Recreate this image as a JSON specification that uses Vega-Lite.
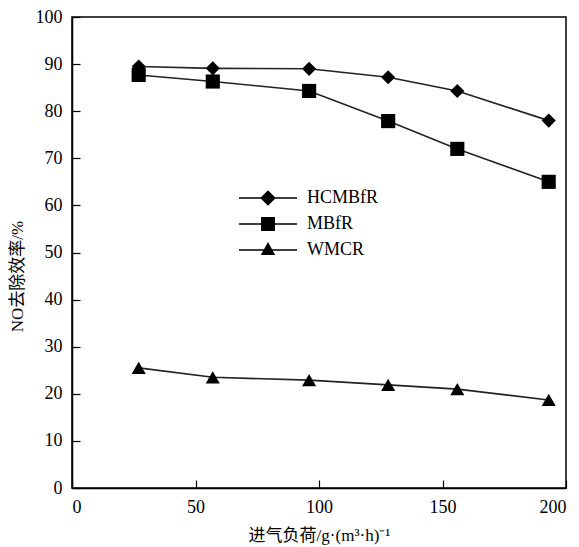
{
  "$schema": "https://vega.github.io/schema/vega-lite/v6.json",
  "width": 494,
  "height": 471,
  "autosize": "none",
  "padding": {"left": 72, "top": 17, "right": 13, "bottom": 59},
  "background": "white",
  "config": {
    "font": "Liberation Serif, Noto Sans CJK SC",
    "view": {"stroke": "black", "strokeWidth": 1.5},
    "axis": {
      "grid": false,
      "domainColor": "black",
      "domainWidth": 1.5,
      "tickColor": "black",
      "tickWidth": 1.2,
      "tickSize": -8,
      "labelFont": "Liberation Serif",
      "labelFontSize": 18,
      "labelColor": "black",
      "titleFont": "Liberation Serif, Noto Sans CJK SC",
      "titleFontSize": 17,
      "titleFontWeight": "normal",
      "titleColor": "black"
    }
  },
  "resolve": {"scale": {"shape": "independent"}, "legend": {"shape": "independent"}},
  "data": {
    "values": [
      {"load": 27, "eff": 89.5, "series": "HCMBfR"},
      {"load": 57, "eff": 89.1, "series": "HCMBfR"},
      {"load": 96, "eff": 89.0, "series": "HCMBfR"},
      {"load": 128, "eff": 87.2, "series": "HCMBfR"},
      {"load": 156, "eff": 84.3, "series": "HCMBfR"},
      {"load": 193, "eff": 78.0, "series": "HCMBfR"},
      {"load": 27, "eff": 87.7, "series": "MBfR"},
      {"load": 57, "eff": 86.3, "series": "MBfR"},
      {"load": 96, "eff": 84.3, "series": "MBfR"},
      {"load": 128, "eff": 77.9, "series": "MBfR"},
      {"load": 156, "eff": 72.0, "series": "MBfR"},
      {"load": 193, "eff": 65.0, "series": "MBfR"},
      {"load": 27, "eff": 25.5, "series": "WMCR"},
      {"load": 57, "eff": 23.5, "series": "WMCR"},
      {"load": 96, "eff": 22.9, "series": "WMCR"},
      {"load": 128, "eff": 21.9, "series": "WMCR"},
      {"load": 156, "eff": 21.0, "series": "WMCR"},
      {"load": 193, "eff": 18.7, "series": "WMCR"}
    ]
  },
  "encoding": {
    "x": {
      "field": "load", "type": "quantitative",
      "scale": {"domain": [0, 200], "nice": false},
      "axis": {"values": [0, 50, 100, 150, 200], "title": "进气负荷/g·(m³·h)⁻¹", "labelPadding": 18, "titleY": 39, "titleBaseline": "top"}
    },
    "y": {
      "field": "eff", "type": "quantitative",
      "scale": {"domain": [0, 100], "nice": false},
      "axis": {"values": [0, 10, 20, 30, 40, 50, 60, 70, 80, 90, 100], "title": "NO去除效率/%", "labelPadding": 18, "titleX": -55, "titleY": 259, "titleAlign": "center", "titleBaseline": "middle", "titleAngle": -90}
    }
  },
  "layer": [
    {
      "mark": {"type": "line", "color": "#222222", "strokeWidth": 1.6},
      "encoding": {"detail": {"field": "series"}}
    },
    {
      "mark": {"type": "point", "filled": true, "color": "black", "opacity": 1, "size": 200},
      "encoding": {
        "shape": {
          "field": "series", "type": "nominal",
          "scale": {"domain": ["HCMBfR", "MBfR", "WMCR"], "range": ["diamond", "square", "triangle-up"]},
          "legend": null
        }
      }
    },
    {
      "mark": {"type": "point", "filled": true, "fill": "black", "strokeWidth": 0, "opacity": 0, "size": 400},
      "encoding": {
        "shape": {
          "field": "series", "type": "nominal",
          "scale": {"domain": ["HCMBfR", "MBfR", "WMCR"], "range": [
            "M-2.9,-0.08H2.9V0.08H-2.9ZM-0.78,0L0,-0.78L0.78,0L0,0.78Z",
            "M-2.9,-0.08H2.9V0.08H-2.9ZM-0.7,-0.7H0.7V0.7H-0.7Z",
            "M-2.9,-0.08H2.9V0.08H-2.9ZM0,-0.8L0.72,0.5H-0.72Z"
          ]},
          "legend": {
            "title": null,
            "orient": "none",
            "legendX": 186,
            "legendY": 171,
            "padding": 0,
            "labelFont": "Liberation Serif",
            "labelFontSize": 18,
            "labelColor": "black",
            "labelOffset": 29,
            "rowPadding": 7,
            "symbolSize": 400,
            "symbolFillColor": "black",
            "symbolStrokeWidth": 0,
            "symbolOpacity": 1,
            "encode": {
              "symbols": {
                "update": {
                  "opacity": {"value": 1},
                  "fill": {"value": "black"}
                }
              }
            }
          }
        }
      }
    }
  ]
}
